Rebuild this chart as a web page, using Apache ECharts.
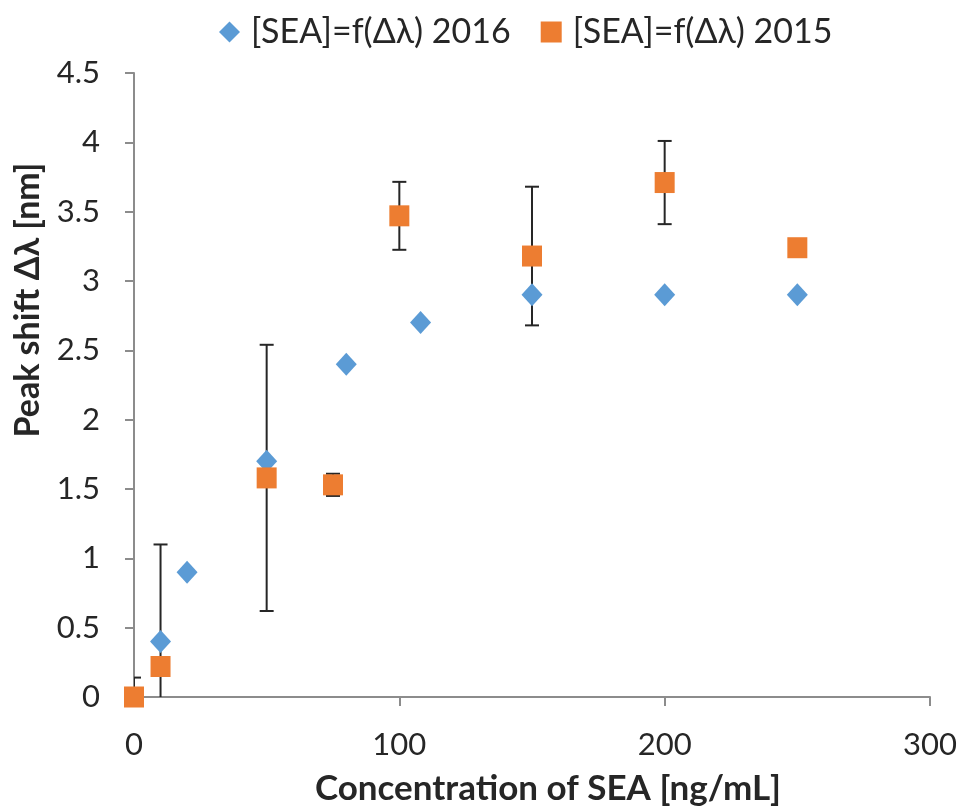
<!DOCTYPE html>
<html><head><meta charset="utf-8">
<script src="https://cdn.jsdelivr.net/npm/echarts@6/dist/echarts.min.js"></script>
<style>html,body{margin:0;padding:0;background:#fff}#c{width:963px;height:811px}</style>
</head><body><div id="c"></div>
<script>
const x2016 = [10, 20, 50, 80, 108, 150, 200, 250];
const y2016 = [0.4, 0.9, 1.7, 2.4, 2.7, 2.9, 2.9, 2.9];
const x2015 = [0, 10, 50, 75, 100, 150, 200, 250];
const y2015 = [0, 0.22, 1.58, 1.53, 3.47, 3.18, 3.71, 3.24];
const err2015 = [0.14, 0.88, 0.96, 0.08, 0.245, 0.5, 0.3, null];
const yTicks = ['0','0.5','1','1.5','2','2.5','3','3.5','4','4.5'];
const xTicks = ['0','100','200','300'];

const s2016 = x2016.map((x,i)=>[x,y2016[i]]);
const s2015 = x2015.map((x,i)=>[x,y2015[i]]);
const errData = x2015.map((x,i)=>err2015[i]==null?null:[x,y2015[i]-err2015[i],y2015[i]+err2015[i]]).filter(d=>d);

const FONT = 'Lato';
const chart = echarts.init(document.getElementById('c'));
chart.setOption({
  animation:false,
  textStyle:{fontFamily:FONT},
  legend:{
    top:10, left:214,
    itemGap:30, itemWidth:21, itemHeight:21,
    textStyle:{fontSize:34, color:'#262626', fontFamily:FONT, padding:[0,0,0,6]},
    data:[{name:'[SEA]=f(Δλ) 2016', icon:'diamond'},{name:'[SEA]=f(Δλ) 2015', icon:'rect'}]
  },
  grid:{left:134, right:33, top:73, bottom:114},
  xAxis:{
    type:'value', min:0, max:300, interval:100,
    name:'Concentration of SEA [ng/mL]', nameLocation:'middle', nameGap:74,
    nameTextStyle:{fontSize:35, fontWeight:'bold', color:'#262626', fontFamily:FONT, padding:[0,0,0,32]},
    axisLine:{lineStyle:{color:'#8c8c8c', width:2}},
    axisTick:{show:true, length:9, lineStyle:{color:'#8c8c8c', width:2}},
    axisLabel:{fontSize:31, color:'#262626', margin:32, formatter:(v)=>xTicks[Math.round(v/100)]},
    splitLine:{show:false}
  },
  yAxis:{
    type:'value', min:0, max:4.5, interval:0.5,
    name:'Peak shift Δλ [nm]', nameLocation:'middle', nameGap:89, nameRotate:90,
    nameTextStyle:{fontSize:34, fontWeight:'bold', color:'#262626', fontFamily:FONT, padding:[0,0,0,170]},
    axisLine:{show:true, lineStyle:{color:'#8c8c8c', width:2}},
    axisTick:{show:true, length:9, lineStyle:{color:'#8c8c8c', width:2}},
    axisLabel:{fontSize:31, color:'#262626', margin:34, formatter:(v)=>yTicks[Math.round(v/0.5)]},
    splitLine:{show:false}
  },
  series:[
    {
      type:'custom', name:'err', z:1, clip:true,
      data:errData,
      renderItem:function(params, api){
        const x = api.value(0);
        const lo = api.coord([x, api.value(1)]);
        const hi = api.coord([x, api.value(2)]);
        const w = 7;
        const st = {stroke:'#262626', lineWidth:2};
        return {type:'group', children:[
          {type:'line', shape:{x1:lo[0],y1:lo[1],x2:hi[0],y2:hi[1]}, style:st},
          {type:'line', shape:{x1:lo[0]-w,y1:lo[1],x2:lo[0]+w,y2:lo[1]}, style:st},
          {type:'line', shape:{x1:hi[0]-w,y1:hi[1],x2:hi[0]+w,y2:hi[1]}, style:st}
        ]};
      },
      encode:{x:0, y:[1,2]}
    },
    {
      type:'scatter', name:'[SEA]=f(Δλ) 2016', z:3,
      symbol:'diamond', symbolSize:[21,23],
      itemStyle:{color:'#5B9BD5', opacity:1},
      data:s2016
    },
    {
      type:'scatter', name:'[SEA]=f(Δλ) 2015', z:4,
      symbol:'rect', symbolSize:[20,21],
      itemStyle:{color:'#ED7D31', opacity:1},
      data:s2015
    }
  ]
});
</script></body></html>
